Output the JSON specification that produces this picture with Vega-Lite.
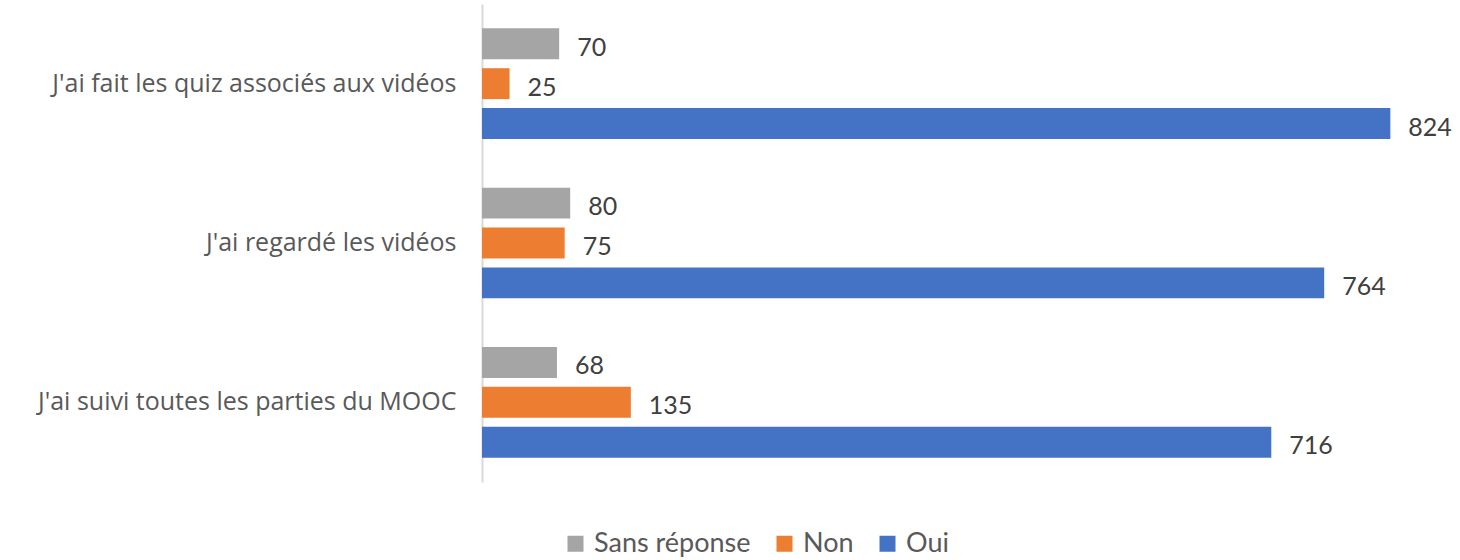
{
  "$schema": "https://vega.github.io/schema/vega-lite/v6.json",
  "width": 937,
  "height": 478,
  "autosize": "none",
  "padding": {"left": 482, "top": 4, "right": 41, "bottom": 78},
  "background": "white",
  "config": {"view": {"stroke": null}, "font": "Lato"},
  "data": {
    "values": [
      {"question": "J'ai fait les quiz associés aux vidéos", "reponse": "Sans réponse", "n": 70},
      {"question": "J'ai fait les quiz associés aux vidéos", "reponse": "Non", "n": 25},
      {"question": "J'ai fait les quiz associés aux vidéos", "reponse": "Oui", "n": 824},
      {"question": "J'ai regardé les vidéos", "reponse": "Sans réponse", "n": 80},
      {"question": "J'ai regardé les vidéos", "reponse": "Non", "n": 75},
      {"question": "J'ai regardé les vidéos", "reponse": "Oui", "n": 764},
      {"question": "J'ai suivi toutes les parties du MOOC", "reponse": "Sans réponse", "n": 68},
      {"question": "J'ai suivi toutes les parties du MOOC", "reponse": "Non", "n": 135},
      {"question": "J'ai suivi toutes les parties du MOOC", "reponse": "Oui", "n": 716}
    ]
  },
  "encoding": {
    "y": {
      "field": "question",
      "type": "nominal",
      "sort": ["J'ai fait les quiz associés aux vidéos", "J'ai regardé les vidéos", "J'ai suivi toutes les parties du MOOC"],
      "scale": {"paddingInner": 0.25, "paddingOuter": 0.125},
      "axis": {
        "title": null,
        "labelFontSize": 25,
        "labelColor": "#595959",
        "labelFont": "Open Sans",
        "labelPadding": 26,
        "labelLimit": 0,
        "ticks": false,
        "domain": true,
        "domainColor": "#d9d9d9",
        "domainWidth": 2
      }
    },
    "yOffset": {
      "field": "reponse",
      "type": "nominal",
      "sort": ["Sans réponse", "Non", "Oui"],
      "scale": {"paddingInner": 0.225, "paddingOuter": 0.11}
    },
    "x": {
      "field": "n",
      "type": "quantitative",
      "scale": {"domain": [0, 850]},
      "axis": null
    }
  },
  "layer": [
    {
      "mark": {"type": "bar"},
      "encoding": {
        "color": {
          "field": "reponse",
          "type": "nominal",
          "sort": ["Sans réponse", "Non", "Oui"],
          "scale": {"domain": ["Sans réponse", "Non", "Oui"], "range": ["#A5A5A5", "#ED7D31", "#4472C4"]},
          "legend": {
            "title": null,
            "orient": "none",
            "direction": "horizontal",
            "legendX": 80,
            "legendY": 526,
            "symbolType": "square",
            "symbolSize": 256,
            "symbolStrokeWidth": 0,
            "labelFontSize": 27,
            "labelColor": "#595959",
            "labelFont": "Lato",
            "columnPadding": 20,
            "labelOffset": 5
          }
        }
      }
    },
    {
      "mark": {"type": "text", "align": "left", "baseline": "middle", "dx": 18, "dy": 4, "fontSize": 25, "color": "#404040", "font": "Lato"},
      "encoding": {"text": {"field": "n", "type": "quantitative"}}
    }
  ]
}
